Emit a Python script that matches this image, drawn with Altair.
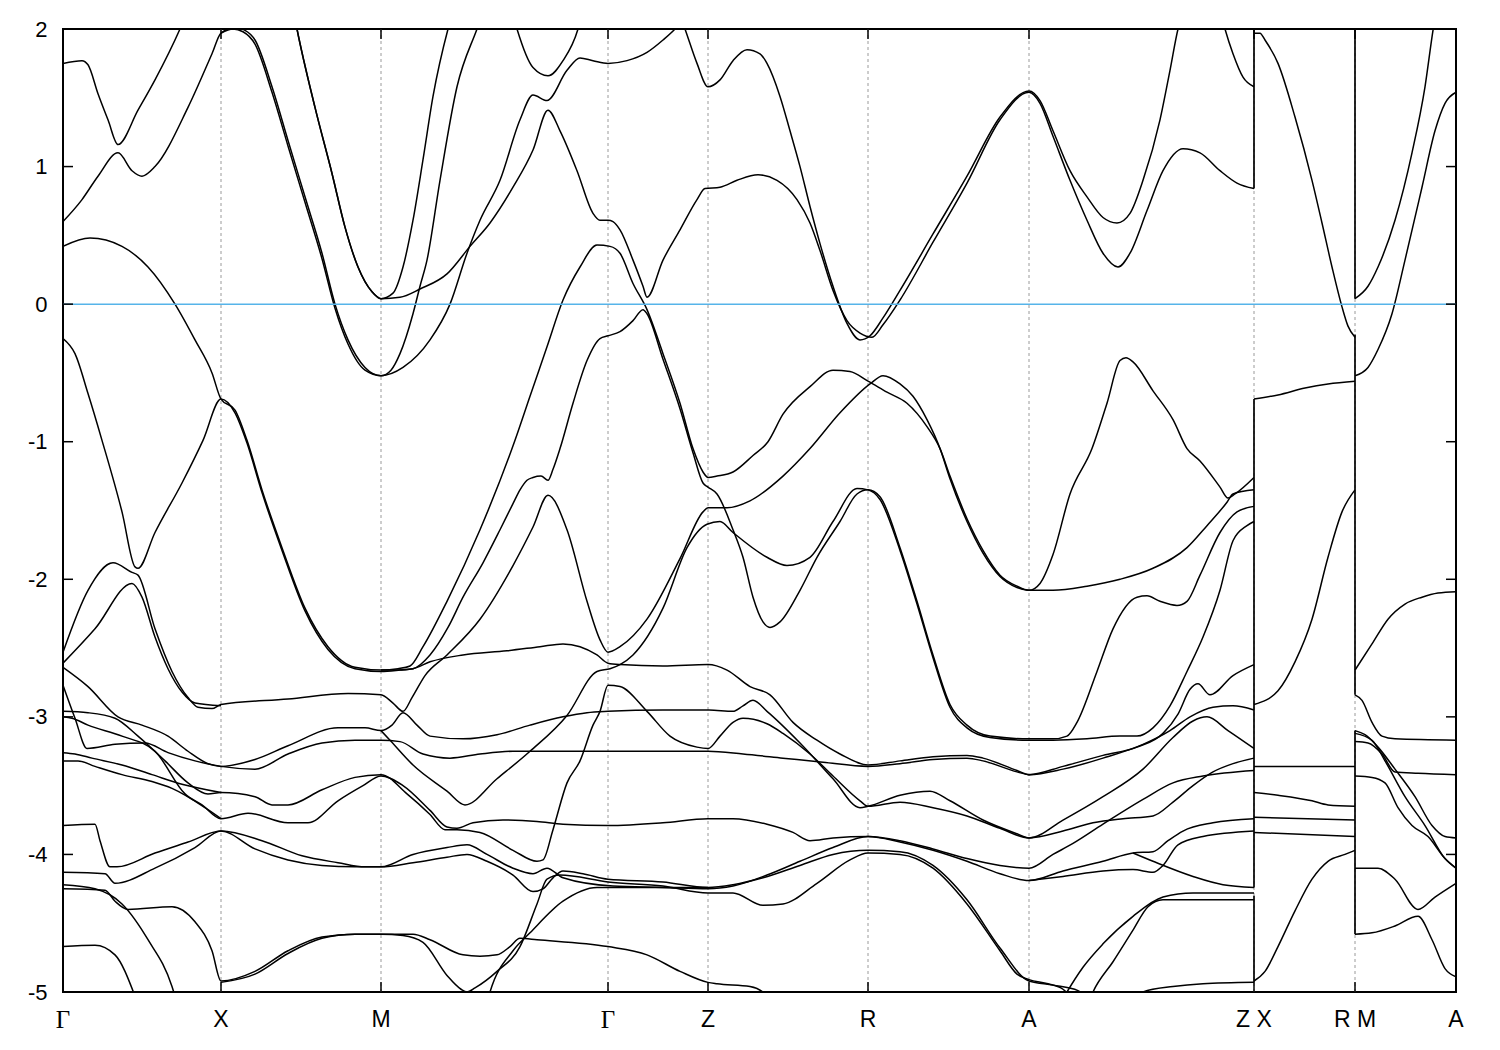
import altair as alt
import pandas as pd

W, H = 1393, 963

# high-symmetry points along the k-path (path-length units)
K_POINTS = [0, 158, 318, 545, 645, 805, 966, 1191, 1292, 1393]
K_LABELS = ["Γ", "X", "M", "Γ", "Z", "R", "A", "Z   X", "R   M", "A"]
E_TICKS = [2, 1, 0, -1, -2, -3, -4, -5]

# vertical jumps of the band lines at the path discontinuities Z|X and R|M
JUMP_K = [1191, 1191, 1191, 1292, 1292, 1292]
JUMP_TOP = [2.0, -0.69, -4.30, 2.0, -0.22, -3.10]
JUMP_BOT = [0.84, -4.24, -4.93, 0.04, -2.84, -4.58]

# ---------------- bands (k, E in eV) ----------------
band_g1 = [(0,1.75),(19,1.77),(25,1.74),(35,1.53),(45,1.34),(55,1.16),(75,1.41),(92,1.63),(117,2.0),(120,2.05)]
band_g2 = [(0,0.60),(19,0.76),(35,0.93),(55,1.10),(69,0.97),(79,0.93),(92,1.0),(125,1.43),(149,1.82),(158,1.97),
           (172,2.01),(182,1.99),(192,1.92),(209,1.58),(225,1.19),(242,0.78),(259,0.37),(272,0.0),(285,-0.26),(302,-0.46),(318,-0.52),
           (340,-0.46),(367,-0.26),(387,0.0),(404,0.37),(417,0.61),(437,0.90),(457,1.34),(470,1.52),(484,1.48),(504,1.70),(517,1.79),
           (530,1.77),(545,1.75),(564,1.77),(584,1.83),(600,1.92),(612,2.0),(618,2.05)]
band_g3 = [(158,1.97),(170,2.0),(180,1.98),(192,1.89),(209,1.54),(225,1.15),(242,0.74),(259,0.33),(272,-0.03),(285,-0.29),(302,-0.48),(318,-0.52),
           (328,-0.48),(337,-0.36),(350,-0.07),(357,0.13),(364,0.32),(377,0.90),(394,1.58),(414,2.0),(418,2.08)]
band_g4 = [(230,2.15),(234,2.0),(252,1.43),(269,0.95),(282,0.56),(295,0.27),(309,0.09),(318,0.04),(337,0.05),(357,0.11),(384,0.22),
           (407,0.42),(427,0.59),(450,0.85),(470,1.12),(485,1.41),(497,1.26),(514,0.97),(530,0.66),(537,0.61),(545,0.61),(550,0.60),
           (557,0.54),(570,0.32),(580,0.13),(584,0.05),(600,0.32),(617,0.54),(634,0.76),(642,0.84),(657,0.85),(674,0.90),(695,0.94),
           (714,0.90),(734,0.76),(747,0.59),(757,0.39),(770,0.10),(784,-0.12),(797,-0.21),(809,-0.24),(820,-0.15),(837,0.03),(870,0.45),
           (904,0.88),(937,1.34),(966,1.54),(977,1.46),(990,1.22),(1007,0.90),(1024,0.61),(1040,0.37),(1055,0.27),(1067,0.37),(1084,0.68),
           (1100,0.97),(1120,1.13),(1137,1.10),(1157,0.97),(1174,0.88),(1191,0.84)]
band_g5 = [(230,2.15),(234,2.0),(252,1.43),(269,0.95),(282,0.56),(295,0.27),(309,0.09),(318,0.04),(330,0.08),(340,0.27),(350,0.61),
           (360,1.05),(370,1.51),(385,2.0),(388,2.08)]
band_g6 = [(450,2.1),(454,2.0),(470,1.72),(485,1.66),(500,1.77),(515,2.0),(518,2.08)]
band_g7 = [(618,2.08),(622,2.0),(634,1.75),(645,1.58),(657,1.63),(670,1.77),(684,1.85),(697,1.82),(704,1.75),(717,1.51),(727,1.26),
           (737,1.0),(747,0.71),(757,0.44),(770,0.13),(784,-0.14),(797,-0.26),(807,-0.23),(820,-0.10),(837,0.10),(870,0.51),(904,0.93),
           (937,1.36),(966,1.55),(977,1.48),(990,1.26),(1007,0.97),(1024,0.78),(1040,0.63),(1054,0.59),(1067,0.66),(1080,0.90),(1097,1.34),
           (1107,1.70),(1115,2.0),(1118,2.08)]
band_g8 = [(1159,2.08),(1162,2.0),(1170,1.82),(1180,1.65),(1191,1.58)]
band_g9 = [(1191,1.97),(1197,1.97),(1202,1.92),(1215,1.75),(1232,1.36),(1249,0.90),(1259,0.59),(1269,0.27),(1279,-0.02),(1285,-0.16),(1292,-0.24)]
band_g10 = [(1292,0.04),(1305,0.13),(1315,0.27),(1332,0.61),(1349,1.10),(1362,1.58),(1370,1.99),(1372,2.08)]
band_g11 = [(1292,-0.52),(1305,-0.46),(1315,-0.33),(1329,-0.07),(1342,0.32),(1359,0.85),(1372,1.26),(1382,1.46),(1393,1.54)]
band_g12 = [(1191,-0.69),(1215,-0.66),(1242,-0.61),(1265,-0.58),(1292,-0.56)]

band_v1 = [(0,0.42),(27,0.48),(59,0.42),(85,0.27),(112,0.0),(132,-0.26),(149,-0.50),(158,-0.69),(172,-0.77),(184,-0.99),(199,-1.35),
           (219,-1.77),(242,-2.21),(265,-2.49),(292,-2.64),(318,-2.66),(335,-2.65),(347,-2.63),(360,-2.49),(384,-2.16),(417,-1.64),
           (452,-0.99),(467,-0.67),(484,-0.31),(500,0.03),(517,0.27),(534,0.43),(547,0.42),(557,0.37),(570,0.15),(584,-0.04),(600,-0.36),
           (617,-0.72),(630,-1.05),(640,-1.22),(645,-1.26),(654,-1.25),(670,-1.22),(690,-1.10),(705,-1.0),(720,-0.80),(747,-0.60),
           (770,-0.48),(787,-0.49),(805,-0.56),(824,-0.64),(844,-0.72),(864,-0.89),(877,-1.05),(887,-1.25),(904,-1.56),(920,-1.79),
           (937,-1.97),(954,-2.05),(966,-2.08),(977,-2.03),(990,-1.82),(1007,-1.38),(1029,-1.05),(1044,-0.72),(1057,-0.41),(1063,-0.39),
           (1070,-0.42),(1090,-0.63),(1110,-0.84),(1124,-1.05),(1137,-1.14),(1157,-1.33),(1165,-1.41),(1172,-1.38),(1191,-1.26)]
band_v2 = [(0,-0.25),(12,-0.36),(25,-0.65),(39,-0.99),(59,-1.51),(72,-1.91),(75,-1.92),(92,-1.66),(119,-1.30),(140,-0.99),(158,-0.69),
           (172,-0.79),(184,-1.01),(199,-1.37),(219,-1.79),(242,-2.23),(265,-2.51),(292,-2.65),(318,-2.67),(337,-2.66),(350,-2.65),
           (367,-2.60),(400,-2.55),(444,-2.52),(477,-2.49),(500,-2.47),(517,-2.49),(534,-2.55),(545,-2.61),(557,-2.62),(600,-2.63),
           (645,-2.62),(664,-2.66),(687,-2.78),(707,-2.84),(730,-3.04),(754,-3.17),(777,-3.27),(805,-3.35),(837,-3.32),(870,-3.29),
           (904,-3.28),(920,-3.30),(954,-3.39),(966,-3.42),(1000,-3.36),(1040,-3.28),(1074,-3.22),(1100,-3.12),(1115,-2.98),(1127,-2.80),
           (1135,-2.76),(1147,-2.84),(1170,-2.70),(1191,-2.62)]
band_v3 = [(0,-2.61),(32,-2.36),(69,-2.03),(79,-2.13),(92,-2.42),(105,-2.65),(119,-2.82),(132,-2.90),(158,-2.92)]
band_v4 = [(0,-2.53),(25,-2.08),(50,-1.88),(69,-1.95),(75,-1.97),(92,-2.36),(109,-2.67),(125,-2.86),(135,-2.93),(149,-2.94),(158,-2.91),
           (225,-2.87),(285,-2.83),(318,-2.84),(330,-2.90),(340,-2.96),(349,-2.86),(362,-2.70),(384,-2.55),(417,-2.29),(450,-1.90),
           (470,-1.62),(485,-1.39),(504,-1.64),(524,-2.16),(537,-2.44),(545,-2.53),(557,-2.49),(584,-2.29),(617,-1.85),(640,-1.51),
           (645,-1.48),(664,-1.48),(687,-1.43),(720,-1.25),(747,-1.05),(777,-0.79),(807,-0.58),(820,-0.52),(837,-0.58),(850,-0.67),
           (864,-0.84),(877,-1.05),(887,-1.27),(904,-1.58),(920,-1.81),(937,-1.98),(954,-2.06),(966,-2.08),(990,-2.08),(1024,-2.05),
           (1057,-2.0),(1090,-1.92),(1124,-1.77),(1144,-1.61),(1164,-1.44),(1170,-1.38),(1191,-1.35)]
band_v5 = [(318,-2.66),(335,-2.66),(350,-2.65),(367,-2.55),(385,-2.35),(400,-2.13),(420,-1.88),(437,-1.64),(450,-1.45),(457,-1.35),
           (464,-1.28),(470,-1.26),(478,-1.25),(485,-1.28),(490,-1.20),(497,-1.05),(510,-0.72),(524,-0.41),(537,-0.25),(545,-0.23),
           (557,-0.20),(570,-0.12),(580,-0.04),(584,-0.07),(600,-0.40),(617,-0.76),(630,-1.08),(640,-1.30),(645,-1.33),(654,-1.38),
           (670,-1.64),(680,-1.84),(690,-2.13),(700,-2.31),(707,-2.35),(717,-2.31),(737,-2.08),(754,-1.84),(777,-1.58),(794,-1.38),
           (805,-1.35),(817,-1.40),(837,-1.77),(854,-2.16),(870,-2.55),(887,-2.91),(904,-3.06),(927,-3.14),(966,-3.16),(990,-3.16),
           (1004,-3.14),(1014,-3.04),(1034,-2.67),(1050,-2.36),(1074,-2.13),(1084,-2.12),(1097,-2.16),(1114,-2.19),(1124,-2.16),
           (1137,-1.97),(1157,-1.66),(1174,-1.51),(1191,-1.47)]
band_v6 = [(318,-3.10),(327,-3.17),(350,-3.35),(384,-3.54),(402,-3.64),(434,-3.45),(467,-3.25),(504,-2.99),(534,-2.67),(547,-2.65),
           (557,-2.62),(570,-2.55),(600,-2.21),(624,-1.77),(644,-1.60),(657,-1.58),(670,-1.66),(704,-1.84),(724,-1.90),(747,-1.84),
           (770,-1.58),(794,-1.34),(805,-1.35),(817,-1.42),(837,-1.79),(854,-2.18),(870,-2.57),(887,-2.93),(904,-3.08),(927,-3.15),
           (966,-3.17),(990,-3.17),(1024,-3.16),(1057,-3.14),(1074,-3.14),(1090,-3.08),(1107,-2.92),(1124,-2.67),(1140,-2.42),
           (1157,-2.08),(1170,-1.72),(1184,-1.61),(1191,-1.58)]
band_v7 = [(0,-2.64),(25,-2.78),(55,-3.0),(79,-3.06),(105,-3.14),(125,-3.25),(145,-3.34),(158,-3.36),(192,-3.31),(225,-3.21),
           (275,-3.08),(302,-3.08),(318,-3.10),(329,-3.06),(340,-2.97),(354,-3.06),(367,-3.14),(400,-3.16),(434,-3.13),(467,-3.06),
           (500,-3.0),(524,-2.97),(545,-2.96),(600,-2.95),(646,-2.95),(670,-2.96),(680,-2.92),(690,-2.88),(704,-2.96),(737,-3.19),
           (770,-3.45),(797,-3.66),(805,-3.65),(837,-3.57),(867,-3.54),(887,-3.61),(920,-3.75),(954,-3.85),(966,-3.88),(1000,-3.75),
           (1040,-3.58),(1080,-3.38),(1110,-3.15),(1130,-3.03),(1144,-3.0),(1165,-3.1),(1191,-3.23)]
band_v8 = [(0,-2.77),(12,-3.01),(24,-3.23),(52,-3.20),(82,-3.19),(105,-3.26),(132,-3.32),(158,-3.36),(192,-3.38),(225,-3.27),
           (259,-3.19),(292,-3.17),(318,-3.17),(337,-3.18),(360,-3.27),(387,-3.30),(417,-3.27),(450,-3.25),(484,-3.25),(545,-3.25),
           (600,-3.25),(645,-3.25),(680,-3.27),(720,-3.30),(760,-3.33),(805,-3.36),(837,-3.34),(870,-3.31),(904,-3.30),(920,-3.32),
           (954,-3.40),(966,-3.42),(1000,-3.38),(1040,-3.30),(1080,-3.2),(1107,-3.1),(1127,-3.0),(1150,-2.93),(1170,-2.92),(1191,-2.95)]
band_v9 = [(0,-2.96),(25,-2.97),(52,-3.01),(75,-3.14),(102,-3.32),(125,-3.48),(145,-3.56),(158,-3.55),(192,-3.58),(209,-3.64),
           (225,-3.64),(259,-3.53),(292,-3.44),(318,-3.42),(344,-3.56),(367,-3.71),(382,-3.82),(394,-3.82),(417,-3.84),(450,-3.97),
           (474,-4.05),(480,-4.04),(490,-3.82),(504,-3.48),(517,-3.32),(530,-3.06),(537,-2.96),(545,-2.77),(557,-2.78),(584,-2.96),
           (607,-3.14),(634,-3.22),(645,-3.23),(657,-3.14),(670,-3.04),(680,-3.01),(704,-3.05),(720,-3.12),(747,-3.27),(770,-3.43),
           (797,-3.61),(805,-3.65),(837,-3.62),(870,-3.66),(904,-3.72),(937,-3.81),(966,-3.88),(1000,-3.83),(1030,-3.77),(1060,-3.74),
           (1090,-3.72),(1110,-3.62),(1130,-3.50),(1150,-3.40),(1170,-3.34),(1191,-3.30)]
band_v10 = [(0,-3.0),(9,-3.01),(25,-3.06),(59,-3.14),(92,-3.25),(122,-3.56),(139,-3.64),(158,-3.74),(185,-3.70),(225,-3.77),
            (245,-3.77),(275,-3.61),(300,-3.50),(318,-3.43),(340,-3.50),(367,-3.68),(384,-3.80),(394,-3.81),(410,-3.77),(440,-3.75),
            (474,-3.76),(500,-3.78),(545,-3.79),(600,-3.77),(645,-3.74),(670,-3.74),(704,-3.78),(730,-3.84),(747,-3.90),(770,-3.88),
            (805,-3.87),(837,-3.91),(870,-3.97),(904,-4.05),(937,-4.14),(966,-4.19),(1000,-4.12),(1040,-4.05),(1070,-3.99),(1090,-3.98),
            (1105,-3.90),(1120,-3.83),(1150,-3.77),(1191,-3.74)]
band_v11 = [(0,-3.26),(12,-3.27),(29,-3.30),(59,-3.35),(89,-3.42),(119,-3.49),(158,-3.55)]
band_v12 = [(0,-3.32),(15,-3.32),(32,-3.36),(59,-3.42),(89,-3.47),(109,-3.52),(142,-3.66),(158,-3.74)]
band_v13 = [(0,-3.79),(32,-3.78),(37,-3.90),(47,-4.09),(54,-4.09),(92,-3.99),(125,-3.91),(158,-3.83),(199,-3.90),(239,-4.01),
            (275,-4.06),(302,-4.09),(318,-4.09),(350,-4.00),(384,-3.95),(404,-3.93),(424,-4.00),(450,-4.10),(470,-4.14),(484,-4.10),
            (500,-4.17),(550,-4.23),(600,-4.24),(645,-4.25),(670,-4.23),(704,-4.15),(737,-4.05),(770,-3.95),(805,-3.87),(837,-3.90),
            (870,-3.96),(904,-4.03),(937,-4.08),(966,-4.10),(990,-4.0),(1010,-3.92),(1040,-3.78),(1080,-3.60),(1110,-3.48),(1140,-3.43),
            (1191,-3.39)]
band_v14 = [(0,-4.13),(42,-4.14),(52,-4.21),(92,-4.10),(132,-3.95),(158,-3.83),(192,-3.96),(225,-4.04),(259,-4.08),(292,-4.09),
            (318,-4.09),(350,-4.06),(384,-4.02),(404,-4.0),(424,-4.05),(450,-4.15),(470,-4.27),(480,-4.25),(490,-4.17),(500,-4.12),
            (520,-4.14),(545,-4.18),(600,-4.20),(645,-4.24),(670,-4.22),(700,-4.17),(737,-4.08),(770,-4.0),(805,-3.97),(837,-3.98),
            (870,-4.08),(904,-4.33),(937,-4.68),(966,-4.92),(990,-4.95),(1015,-4.99),(1022,-5.03)]
band_v15 = [(0,-4.22),(32,-4.25),(59,-4.36),(85,-4.62),(109,-4.96),(112,-5.03)]
band_v16 = [(0,-4.25),(42,-4.26),(52,-4.34),(65,-4.40),(109,-4.38),(132,-4.49),(149,-4.70),(158,-4.92),(192,-4.85),(225,-4.70),
            (259,-4.60),(292,-4.58),(318,-4.58),(350,-4.58),(367,-4.62),(400,-4.73),(417,-4.74),(434,-4.73),(447,-4.67),(457,-4.61),
            (474,-4.62),(545,-4.67),(584,-4.73),(617,-4.85),(645,-4.93),(654,-4.94),(687,-4.96),(700,-5.0),(706,-5.04)]
band_v17 = [(0,-4.67),(32,-4.66),(52,-4.73),(72,-5.03)]
band_v18 = [(158,-4.93),(192,-4.87),(225,-4.72),(259,-4.61),(292,-4.58),(318,-4.58),(340,-4.59),(360,-4.64),(384,-4.88),(398,-4.98),
            (404,-5.0),(412,-4.97),(434,-4.85),(457,-4.67),(474,-4.36),(484,-4.18),(497,-4.15),(545,-4.20),(600,-4.23),(645,-4.28),
            (670,-4.28),(700,-4.37),(720,-4.36),(754,-4.21),(787,-4.04),(805,-3.99),(837,-4.0),(870,-4.10),(904,-4.36),(937,-4.70),
            (954,-4.87),(966,-4.91),(985,-4.94),(1000,-4.98),(1007,-5.03)]
band_v19 = [(425,-5.05),(427,-5.0),(450,-4.70),(467,-4.57),(500,-4.34),(534,-4.24),(600,-4.24),(645,-4.24)]
band_v20 = [(1070,-3.99),(1090,-4.05),(1130,-4.16),(1160,-4.22),(1191,-4.24)]
band_v21 = [(1000,-5.05),(1004,-5.0),(1020,-4.82),(1040,-4.65),(1070,-4.45),(1100,-4.31),(1130,-4.28),(1191,-4.28)]
band_v22 = [(1027,-5.05),(1030,-5.0),(1050,-4.78),(1070,-4.55),(1085,-4.38),(1100,-4.33),(1191,-4.33)]
band_v23 = [(1075,-5.03),(1080,-5.0),(1110,-4.96),(1140,-4.94),(1191,-4.93)]
band_v24 = [(966,-4.19),(1000,-4.16),(1040,-4.12),(1070,-4.11),(1090,-4.13),(1100,-4.08),(1115,-3.93),(1140,-3.87),(1191,-3.83)]

band_x1 = [(1191,-2.91),(1215,-2.81),(1232,-2.60),(1249,-2.29),(1265,-1.84),(1279,-1.51),(1292,-1.35)]
band_x2 = [(1191,-3.36),(1292,-3.36)]
band_x3 = [(1191,-3.55),(1215,-3.57),(1249,-3.61),(1265,-3.64),(1292,-3.65)]
band_x4 = [(1191,-3.73),(1292,-3.75)]
band_x5 = [(1191,-3.84),(1292,-3.87)]
band_x6 = [(1191,-4.92),(1202,-4.85),(1215,-4.67),(1232,-4.41),(1249,-4.18),(1265,-4.05),(1282,-4.0),(1292,-3.97)]

band_m1 = [(1292,-2.66),(1309,-2.47),(1325,-2.29),(1342,-2.18),(1359,-2.13),(1375,-2.10),(1393,-2.09)]
band_m2 = [(1292,-2.84),(1299,-2.88),(1309,-3.04),(1319,-3.14),(1332,-3.16),(1393,-3.17)]
band_m3 = [(1292,-3.10),(1302,-3.13),(1315,-3.22),(1332,-3.38),(1352,-3.58),(1369,-3.79),(1382,-3.87),(1393,-3.88)]
band_m4 = [(1292,-3.18),(1305,-3.19),(1319,-3.27),(1332,-3.40),(1355,-3.41),(1393,-3.42)]
band_m5 = [(1292,-3.12),(1309,-3.17),(1322,-3.32),(1342,-3.58),(1362,-3.79),(1382,-4.03),(1393,-4.10)]
band_m6 = [(1292,-3.43),(1309,-3.44),(1322,-3.48),(1335,-3.66),(1349,-3.79),(1365,-3.87),(1382,-4.03),(1393,-4.10)]
band_m7 = [(1292,-4.10),(1315,-4.10),(1332,-4.18),(1355,-4.40),(1372,-4.31),(1393,-4.21)]
band_m8 = [(1292,-4.58),(1309,-4.57),(1332,-4.52),(1355,-4.45),(1369,-4.62),(1382,-4.83),(1393,-4.89)]

BANDS = {
    "g1": band_g1, "g2": band_g2, "g3": band_g3, "g4": band_g4, "g5": band_g5, "g6": band_g6,
    "g7": band_g7, "g8": band_g8, "g9": band_g9, "g10": band_g10, "g11": band_g11, "g12": band_g12,
    "v1": band_v1, "v2": band_v2, "v3": band_v3, "v4": band_v4, "v5": band_v5, "v6": band_v6,
    "v7": band_v7, "v8": band_v8, "v9": band_v9, "v10": band_v10, "v11": band_v11, "v12": band_v12,
    "v13": band_v13, "v14": band_v14, "v15": band_v15, "v16": band_v16, "v17": band_v17, "v18": band_v18,
    "v19": band_v19, "v20": band_v20, "v21": band_v21, "v22": band_v22, "v23": band_v23, "v24": band_v24,
    "x1": band_x1, "x2": band_x2, "x3": band_x3, "x4": band_x4, "x5": band_x5, "x6": band_x6,
    "m1": band_m1, "m2": band_m2, "m3": band_m3, "m4": band_m4, "m5": band_m5, "m6": band_m6,
    "m7": band_m7, "m8": band_m8,
}

rows = []
for name, pts in BANDS.items():
    for i, (k, e) in enumerate(sorted(pts)):
        rows.append({"band": name, "i": i, "k": k, "E": e})
df_bands = pd.DataFrame(rows)

df_jump = pd.DataFrame({"k": JUMP_K, "E": JUMP_TOP, "E2": JUMP_BOT})
df_hs = pd.DataFrame({"k": K_POINTS[1:-1]})
df_xt = pd.DataFrame({"k": K_POINTS})
df_yt = pd.DataFrame({"E": E_TICKS})
df_lab = pd.DataFrame({"k": K_POINTS, "label": K_LABELS})
df_lab_sans = df_lab[df_lab["label"] != "Γ"]
df_lab_gamma = df_lab[df_lab["label"] == "Γ"]
df_zero = pd.DataFrame({"E": [0.0]})

xs = alt.Scale(domain=[0, 1393], nice=False, zero=False)
ys = alt.Scale(domain=[-5, 2], nice=False, zero=False)
YAXIS = alt.Axis(
    values=E_TICKS, title=None, ticks=False, tickSize=0, domain=False, grid=False,
    labelFont="Liberation Sans", labelFontSize=22, labelColor="black",
    labelPadding=16, labelOverlap=False, labelExpr="'' + datum.value",
)
X = lambda: alt.X("k:Q", scale=xs, axis=None)
Y = lambda: alt.Y("E:Q", scale=ys, axis=YAXIS)

grid = alt.Chart(df_hs).mark_rule(color="#9a9a9a", strokeWidth=1, strokeDash=[3, 3]).encode(x=X())

bands = alt.Chart(df_bands).mark_line(
    color="black", strokeWidth=1.5, interpolate="monotone", clip=True
).encode(x=X(), y=Y(), detail="band:N", order="i:Q")

jumps = alt.Chart(df_jump).mark_rule(color="black", strokeWidth=1.7).encode(
    x=X(), y=Y(), y2="E2:Q")

zero = alt.Chart(df_zero).mark_rule(color="#56B4E9", strokeWidth=1.5).encode(y=Y())

tick_l = alt.Chart(df_yt).mark_rule(color="black", strokeWidth=1.5).encode(
    y=Y(), x=alt.value(0), x2=alt.value(10))
tick_r = alt.Chart(df_yt).mark_rule(color="black", strokeWidth=1.5).encode(
    y=Y(), x=alt.value(W - 10), x2=alt.value(W))
tick_b = alt.Chart(df_xt).mark_rule(color="black", strokeWidth=1.5).encode(
    x=X(), y=alt.value(H - 10), y2=alt.value(H))
tick_t = alt.Chart(df_xt).mark_rule(color="black", strokeWidth=1.5).encode(
    x=X(), y=alt.value(0), y2=alt.value(10))

lab_sans = alt.Chart(df_lab_sans).mark_text(
    font="Liberation Sans", fontSize=23, baseline="middle", align="center", color="black"
).encode(x=X(), y=alt.value(H + 28), text="label:N")
lab_gamma = alt.Chart(df_lab_gamma).mark_text(
    font="Liberation Serif", fontSize=25, baseline="middle", align="center", color="black"
).encode(x=X(), y=alt.value(H + 28), text="label:N")

chart = alt.layer(
    grid, bands, jumps, zero, tick_l, tick_r, tick_b, tick_t, lab_sans, lab_gamma
).properties(
    width=W, height=H,
    autosize=alt.AutoSizeParams(type="none"),
    padding={"left": 55, "top": 21, "right": 20, "bottom": 50},
).configure_view(stroke="black", strokeWidth=2)

chart.save("out.html", embed_options={"renderer": "svg", "actions": False})
